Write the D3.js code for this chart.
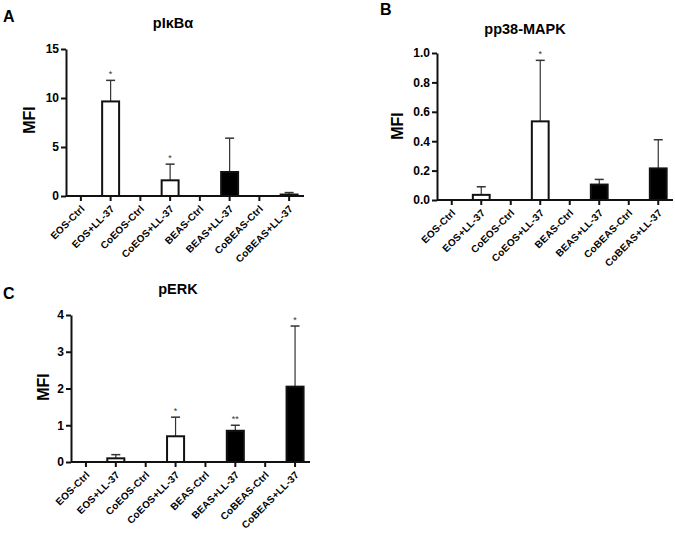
<!DOCTYPE html>
<html>
<head>
<meta charset="utf-8">
<script src="https://cdn.jsdelivr.net/npm/d3@7"></script>
<style>
  body { margin: 0; background: #fff; }
  svg { font-family: Arial, "Liberation Sans", sans-serif; }
  .axis path, .axis line { stroke: #111; stroke-width: 2px; }
  .axis text { fill: #000; }
</style>
</head>
<body>
<div id="chart"></div>
<script>
var categories = ["EOS-Ctrl", "EOS+LL-37", "CoEOS-Ctrl", "CoEOS+LL-37",
                  "BEAS-Ctrl", "BEAS+LL-37", "CoBEAS-Ctrl", "CoBEAS+LL-37"];

// pIkBa
var ikbMean = [0, 9.65, 0, 1.6, 0, 2.45, 0, 0.15];
var ikbErr  = [0, 2.15, 0, 1.65, 0, 3.45, 0, 0.2];
var ikbSig  = ["", "*", "", "*", "", "", "", ""];
var ikbTicks = [0, 5, 10, 15];

// pp38-MAPK
var p38Mean = [0, 0.035, 0, 0.535, 0, 0.105, 0, 0.215];
var p38Err  = [0, 0.055, 0, 0.415, 0, 0.035, 0, 0.195];
var p38Sig  = ["", "", "", "*", "", "", "", ""];
var p38Ticks = [0, 0.2, 0.4, 0.6, 0.8, 1.0];

// pERK
var erkMean = [0, 0.1, 0, 0.7, 0, 0.85, 0, 2.05];
var erkErr  = [0, 0.1, 0, 0.52, 0, 0.15, 0, 1.65];
var erkSig  = ["", "", "", "*", "", "**", "", "*"];
var erkTicks = [0, 1, 2, 3, 4];

var width = 675, height = 536;

var svg = d3.select("#chart").append("svg")
  .attr("width", width)
  .attr("height", height);

//-- one panel --//
function panel(opt) {
  var g = svg.append("g");

  var x = d3.scaleBand()
    .domain(categories)
    .range([opt.x0, opt.x1])
    .paddingInner(0.43)
    .paddingOuter(0.215);

  var y = d3.scaleLinear()
    .domain([0, opt.max])
    .range([opt.y0, opt.yTop]);

  var data = categories.map(function(c, i) {
    return {cat: c, mean: opt.mean[i], err: opt.err[i], sig: opt.sig[i]};
  });
  var shown = data.filter(function(d) { return d.mean > 0; });

  // error bars (drawn first so bar top covers them)
  var eb = g.selectAll(".err").data(shown).enter().append("g");
  eb.append("line")
    .attr("x1", function(d) { return x(d.cat) + x.bandwidth() / 2; })
    .attr("x2", function(d) { return x(d.cat) + x.bandwidth() / 2; })
    .attr("y1", function(d) { return y(d.mean); })
    .attr("y2", function(d) { return y(d.mean + d.err); })
    .attr("stroke", "#333").attr("stroke-width", 1.2);
  eb.append("line")
    .attr("x1", function(d) { return x(d.cat) + x.bandwidth() / 2 - 4.5; })
    .attr("x2", function(d) { return x(d.cat) + x.bandwidth() / 2 + 4.5; })
    .attr("y1", function(d) { return y(d.mean + d.err); })
    .attr("y2", function(d) { return y(d.mean + d.err); })
    .attr("stroke", "#333").attr("stroke-width", 1.5);

  g.selectAll(".bar").data(shown).enter().append("rect")
    .attr("x", function(d) { return x(d.cat); })
    .attr("width", x.bandwidth())
    .attr("y", function(d) { return y(d.mean); })
    .attr("height", function(d) { return y(0) - y(d.mean); })
    .attr("fill", function(d) { return d.cat.indexOf("BEAS") >= 0 ? "#000" : "#fff"; })
    .attr("stroke", "#111")
    .attr("stroke-width", 2);

  // significance stars
  g.selectAll(".sig").data(data.filter(function(d) { return d.sig; })).enter()
    .append("text")
    .attr("x", function(d) { return x(d.cat) + x.bandwidth() / 2; })
    .attr("y", function(d) { return y(d.mean + d.err) - 3; })
    .attr("text-anchor", "middle")
    .attr("font-size", 9)
    .attr("fill", "#333")
    .text(function(d) { return d.sig; });

  // axes
  var xAxis = d3.axisBottom(x).tickSize(5).tickSizeOuter(0);
  g.append("g")
    .attr("class", "x axis")
    .attr("transform", "translate(0," + opt.y0 + ")")
    .call(xAxis)
    .call(function(a) { a.select(".domain").attr("d", "M" + opt.x0 + ",0H" + opt.x1); })
    .selectAll("text")
    .attr("font-size", 10)
    .attr("font-weight", "bold")
    .attr("letter-spacing", 0.2)
    .attr("text-anchor", "end")
    .attr("x", 0).attr("y", 0)
    .attr("dy", "0.35em")
    .attr("transform", "translate(2,11) rotate(-45)");

  var yAxis = d3.axisLeft(y).tickValues(opt.ticks).tickSize(5).tickSizeOuter(0)
    .tickFormat(opt.fmt);
  g.append("g")
    .attr("class", "y axis")
    .attr("transform", "translate(" + opt.x0 + ",0)")
    .call(yAxis)
    .selectAll("text")
    .attr("font-size", 12)
    .attr("font-weight", "bold")
    .attr("x", -7);
  g.selectAll(".axis text").attr("font-family", "Arial, 'Liberation Sans', sans-serif");

  // titles and labels
  g.append("text")
    .attr("x", opt.titleX).attr("y", opt.titleY)
    .attr("text-anchor", "middle")
    .attr("font-size", 14.5).attr("font-weight", "bold")
    .text(opt.title);

  g.append("text")
    .attr("x", opt.letterX).attr("y", opt.letterY)
    .attr("font-size", 16).attr("font-weight", "bold")
    .text(opt.letter);

  g.append("text")
    .attr("transform", "translate(" + opt.mfiX + "," + opt.mfiY + ") rotate(-90)")
    .attr("text-anchor", "middle")
    .attr("dy", "0.35em")
    .attr("font-size", 16).attr("font-weight", "bold")
    .text("MFI");
}

panel({
  mean: ikbMean, err: ikbErr, sig: ikbSig, ticks: ikbTicks, max: 15,
  fmt: d3.format("d"),
  x0: 66, x1: 304, y0: 196, yTop: 49,
  title: "pI\u03baB\u03b1", titleX: 173, titleY: 28,
  letter: "A", letterX: 3, letterY: 22,
  mfiX: 29, mfiY: 120
});

panel({
  mean: p38Mean, err: p38Err, sig: p38Sig, ticks: p38Ticks, max: 1,
  fmt: d3.format(".1f"),
  x0: 437, x1: 673, y0: 200, yTop: 53,
  title: "pp38-MAPK", titleX: 525, titleY: 34,
  letter: "B", letterX: 380, letterY: 15,
  mfiX: 397, mfiY: 126
});

panel({
  mean: erkMean, err: erkErr, sig: erkSig, ticks: erkTicks, max: 4,
  fmt: d3.format("d"),
  x0: 71, x1: 310, y0: 462, yTop: 315,
  title: "pERK", titleX: 178, titleY: 294,
  letter: "C", letterX: 3, letterY: 299,
  mfiX: 43, mfiY: 387
});
</script>
</body>
</html>
